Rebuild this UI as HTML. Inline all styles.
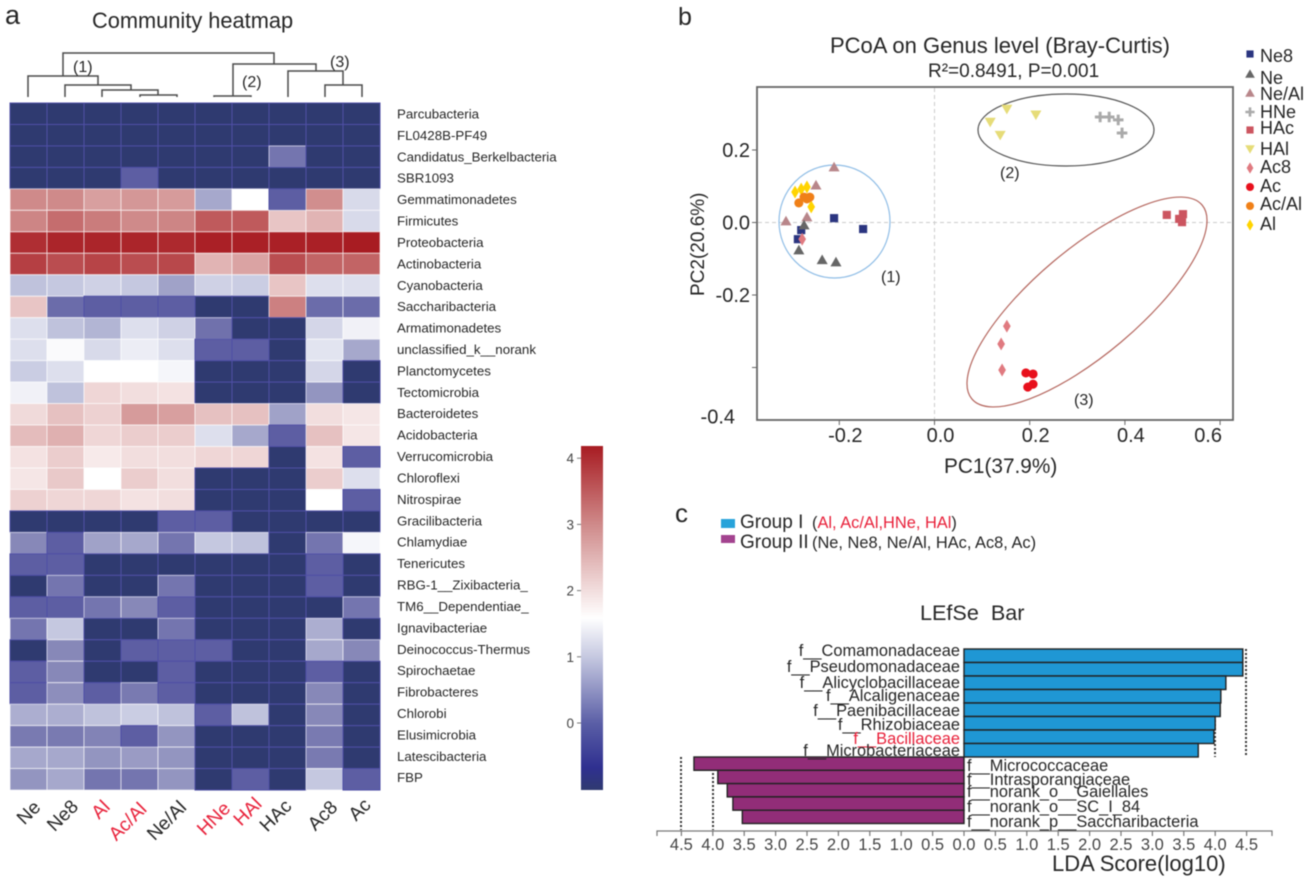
<!DOCTYPE html>
<html lang="en">
<head>
<meta charset="utf-8">
<title>Community heatmap, PCoA and LEfSe figure</title>
<style>
html,body{margin:0;padding:0;background:#fff;}
body{width:1313px;height:882px;overflow:hidden;}
svg{display:block;filter:blur(0.45px);}
text{font-family:"Liberation Sans",Arial,sans-serif;fill:#262626;}
</style>
</head>
<body>
<svg id="fig" xmlns="http://www.w3.org/2000/svg" width="1313" height="882" viewBox="0 0 1313 882">
  <defs>
    <linearGradient id="cbGrad" x1="0" y1="0" x2="0" y2="1">
      <stop offset="0" stop-color="#a81c22"/>
      <stop offset="0.228" stop-color="#cf8a8a"/>
      <stop offset="0.421" stop-color="#f2dede"/>
      <stop offset="0.5" stop-color="#ffffff"/>
      <stop offset="0.614" stop-color="#c5c8e0"/>
      <stop offset="0.807" stop-color="#5a5ea6"/>
      <stop offset="0.935" stop-color="#2f3090"/>
      <stop offset="1" stop-color="#2f3a70"/>
    </linearGradient>
  </defs>

  <!-- panel a -->
  <text x="5" y="24" font-size="27">a</text>
  <text x="92" y="28" font-size="21.8">Community heatmap</text>
  <path fill="none" stroke="#4a4a4a" stroke-width="1.5"
    d="M63 76V53H274V64 M28 97V76H98V85 M65 97V85H131V90 M102 97V90H158V95 M140 97V95H177V97
       M214 97V96H251V97 M233 96V64H316V71 M288 97V71H343V80 M343 85V80 M325 97V85H362V97"/>
  <text x="73" y="72" font-size="16">(1)</text>
  <text x="242" y="87" font-size="16">(2)</text>
  <text x="330" y="67" font-size="16">(3)</text>
  <g id="heatCells"></g>
  <g id="heatRows"></g>

  <g font-size="19" text-anchor="middle">
    <text transform="translate(33 817) rotate(-45)">Ne</text>
    <text transform="translate(67 820) rotate(-45)">Ne8</text>
    <text style="fill:#e8213a" transform="translate(105 814) rotate(-45)">Al</text>
    <text style="fill:#e8213a" transform="translate(132 826) rotate(-45)">Ac/Al</text>
    <text transform="translate(171 825) rotate(-45)">Ne/Al</text>
    <text style="fill:#e8213a" transform="translate(218 823) rotate(-45)">HNe</text>
    <text style="fill:#e8213a" transform="translate(252 816) rotate(-45)">HAl</text>
    <text transform="translate(280 820) rotate(-45)">HAc</text>
    <text transform="translate(327 820) rotate(-45)">Ac8</text>
    <text transform="translate(364 814) rotate(-45)">Ac</text>
  </g>

  <rect x="581" y="446" width="22" height="344" fill="url(#cbGrad)"/>
  <g id="cbTicks"></g>

  <!-- panel b -->
  <text x="678" y="25" font-size="25">b</text>
  <text x="830" y="53" font-size="22">PCoA on Genus level (Bray-Curtis)</text>
  <text x="928" y="77" font-size="19">R²=0.8491, P=0.001</text>
  <rect x="757" y="87" width="476" height="333" fill="#fff" stroke="#666" stroke-width="1.8"/>
  <g id="pcoaAxes"></g>
  <text x="944" y="473" font-size="20.8">PC1(37.9%)</text>
  <text transform="translate(704 296) rotate(-90)" font-size="19">PC2(20.6%)</text>
  <ellipse cx="834.5" cy="221.5" rx="55.5" ry="56.5" fill="none" stroke="#8fbde6" stroke-width="1.2"/>
  <ellipse cx="1066" cy="130" rx="88" ry="36" fill="none" stroke="#555" stroke-width="1.2"/>
  <ellipse cx="1087" cy="302" rx="150.5" ry="52.6" transform="rotate(-40.1 1087 302)" fill="none" stroke="#b5675f" stroke-width="1.2"/>
  <g id="pcoaPoints"></g>
  <text x="881" y="282" font-size="16">(1)</text>
  <text x="1000" y="178" font-size="16">(2)</text>
  <text x="1074" y="405" font-size="16">(3)</text>
  <g id="pcoaLegend"></g>

  <!-- panel c -->
  <text x="675" y="522" font-size="26">c</text>
  <rect x="721" y="519" width="14" height="9" fill="#27a3da"/>
  <rect x="721" y="535" width="14" height="8" fill="#a3438f"/>
  <text x="740" y="528" font-size="19">Group I</text>
  <text x="740" y="548" font-size="19">Group II</text>
  <text x="812" y="528" font-size="16.4">(<tspan style="fill:#e8213a">Al, Ac/Al,HNe, HAl</tspan>)</text>
  <text x="812" y="548" font-size="16.4">(Ne, Ne8, Ne/Al, HAc, Ac8, Ac)</text>
  <text x="920" y="620" font-size="21.6" xml:space="preserve">LEfSe  Bar</text>
  <g id="lefseBars"></g>
  <g font-size="16.4" text-anchor="end">
    <text x="960" y="656">f__Comamonadaceae</text>
    <text x="960" y="672">f__Pseudomonadaceae</text>
    <text x="960" y="688">f__Alicyclobacillaceae</text>
    <text x="960" y="701">f__Alcaligenaceae</text>
    <text x="960" y="716">f__Paenibacillaceae</text>
    <text x="960" y="730">f__Rhizobiaceae</text>
    <text x="960" y="744" style="fill:#e8213a">f__Bacillaceae</text>
    <text x="960" y="756">f__Microbacteriaceae</text>
  </g>
  <g font-size="16.4">
    <text x="967" y="771">f__Micrococcaceae</text>
    <text x="967" y="785">f__Intrasporangiaceae</text>
    <text x="967" y="797">f__norank_o__Gaiellales</text>
    <text x="967" y="812">f__norank_o__SC_I_84</text>
    <text x="967" y="827">f__norank_p__Saccharibacteria</text>
  </g>
  <g id="lefseAxis"></g>
  <text x="1052" y="871" font-size="22">LDA Score(log10)</text>
</svg>

<script>
// ---------- heatmap data ----------
const heatTaxa = ["Parcubacteria","FL0428B-PF49","Candidatus_Berkelbacteria","SBR1093","Gemmatimonadetes","Firmicutes","Proteobacteria","Actinobacteria","Cyanobacteria","Saccharibacteria","Armatimonadetes","unclassified_k__norank","Planctomycetes","Tectomicrobia","Bacteroidetes","Acidobacteria","Verrucomicrobia","Chloroflexi","Nitrospirae","Gracilibacteria","Chlamydiae","Tenericutes","RBG-1__Zixibacteria_","TM6__Dependentiae_","Ignavibacteriae","Deinococcus-Thermus","Spirochaetae","Fibrobacteres","Chlorobi","Elusimicrobia","Latescibacteria","FBP"];
const heatSamples = ["Ne","Ne8","Al","Ac/Al","Ne/Al","HNe","HAl","HAc","Ac8","Ac"];
const heatValues = [
[-.8,-.8,-.8,-.8,-.8,-.8,-.8,-.8,-.8,-.8],
[-.8,-.8,-.8,-.8,-.8,-.8,-.8,-.8,-.8,-.8],
[-.8,-.8,-.8,-.8,-.8,-.8,-.8,.3,-.8,-.8],
[-.8,-.8,-.8,.05,-.8,-.8,-.8,-.8,-.8,-.8],
[3.0,3.0,2.75,2.85,2.8,.75,1.6,.05,2.95,1.2],
[3.05,3.3,3.15,3.0,3.05,3.5,3.5,2.3,2.5,1.2],
[4.0,4.1,4.1,4.1,4.05,4.15,4.15,4.15,4.15,4.2],
[3.8,3.65,3.75,3.65,3.7,2.5,2.7,3.65,3.4,3.4],
[.95,1.0,1.1,1.0,.7,1.1,1.05,2.3,1.25,1.25],
[2.3,.2,.05,.05,.05,-.8,-.8,3.1,.2,.2],
[1.25,.95,.85,1.25,1.1,.25,-.8,-.8,1.15,1.45],
[1.25,1.55,1.2,1.4,1.25,.05,.05,-.8,1.3,.75],
[1.05,1.25,1.6,1.6,1.5,-.8,-.8,-.8,1.15,-.8],
[1.45,.95,2.1,2.0,1.95,-.8,-.8,-.8,.6,-.8],
[2.05,2.35,2.15,2.8,2.75,2.35,2.35,.7,2.0,1.9],
[2.4,2.55,2.1,2.2,2.2,1.25,.75,.05,2.35,1.9],
[1.95,2.2,1.85,2.0,2.0,2.1,2.1,-.8,1.95,.05],
[1.9,2.25,1.6,2.2,2.0,-.8,-.8,-.8,2.2,1.25],
[2.15,2.1,2.1,1.95,2.0,-.8,-.8,-.8,1.6,.05],
[-.8,-.8,-.8,-.8,.05,.05,-.8,-.8,-.8,-.8],
[.5,.05,.7,.75,.3,1.0,.95,-.8,.3,1.5],
[.05,.05,-.8,-.8,-.8,-.8,-.8,-.8,.05,-.8],
[-.8,.3,-.8,-.8,.3,-.8,-.8,-.8,.05,-.8],
[.05,.05,.3,.5,.05,-.8,-.8,-.8,-.8,.3],
[.3,1.0,-.8,-.8,.3,-.8,-.8,-.8,.8,-.8],
[-.8,.5,-.8,.05,.05,.05,-.8,-.8,.75,.5],
[.05,.5,-.8,-.8,.05,-.8,-.8,-.8,.05,-.8],
[.05,.55,.05,.35,.05,-.8,-.8,-.8,.5,-.8],
[.8,.8,.95,1.05,.95,.05,.95,-.8,.5,-.8],
[.35,.35,.45,.05,.6,-.8,-.8,-.8,.35,-.8],
[.75,.75,.6,.65,.6,-.8,-.8,-.8,.35,-.8],
[.6,.75,.3,.3,.6,-.8,.05,-.8,1.0,.05]
];
const colorbarTicks = [0,1,2,3,4];

// ---------- PCoA data: [PC1, PC2] ----------
const seriesNe8 = [[-.211,.012],[-.150,-.018],[-.280,-.021],[-.287,-.046]];
const seriesNe = [[-.274,-.007],[-.285,-.076],[-.236,-.103],[-.207,-.109]];
const seriesNeAl = [[-.211,.153],[-.249,.103],[-.268,.015],[-.312,.004]];
const seriesHNe = [[.348,.291],[.367,.291],[.386,.283],[.394,.247]];
const seriesHAc = [[.488,.021],[.522,.023],[.514,.010],[.520,.001]];
const seriesHAl = [[.117,.277],[.152,.313],[.213,.297],[.138,.241]];
const seriesAc8 = [[.152,-.286],[.140,-.335],[.142,-.407],[-.278,-.046]];
const seriesAc = [[.192,-.415],[.207,-.418],[.207,-.446],[.196,-.454]];
const seriesAcAl = [[-.285,.054],[-.274,.070],[-.268,.065],[-.262,.070]];
const seriesAl = [[-.293,.084],[-.280,.092],[-.268,.098],[-.259,.043]];
const pcoaXTicks = [-0.2,0,0.2,0.4,0.6];
const pcoaYTicks = [0.2,0,-0.2,-0.4];

// ---------- LEfSe data ----------
const groupOneScores = [4.44,4.44,4.17,4.09,4.08,4.0,3.98,3.73];
const groupTwoScores = [4.3,3.92,3.77,3.68,3.53];
const ldaTicks = [0,0.5,1,1.5,2,2.5,3,3.5,4,4.5];

const NS = "http://www.w3.org/2000/svg";
function el(tag, attrs, parent, text) {
  const n = document.createElementNS(NS, tag);
  for (const k in attrs) n.setAttribute(k, attrs[k]);
  if (text !== undefined) n.textContent = text;
  parent.appendChild(n);
  return n;
}

// ---------- heatmap ----------
const heatX = i => 10 + i * 37;
const heatY = i => 103 + i * 21.47;
function mix(a, b, t) {
  const p = s => [1, 3, 5].map(k => parseInt(s.substr(k, 2), 16));
  const A = p(a), B = p(b);
  return "rgb(" + A.map((v, i) => Math.round(v + (B[i] - v) * t)).join(",") + ")";
}
function heatColor(v) {
  const ramp = [[-.8,"#2f3a70"],[-.3,"#38397f"],[.05,"#5d5ea3"],[.5,"#8788b8"],[1,"#c5c8e0"],[1.6,"#ffffff"],[2,"#f2dede"],[3,"#cf8a8a"],[3.5,"#bf5a5c"],[4.2,"#a81c22"]];
  for (let i = 1; i < ramp.length; i++) {
    if (v <= ramp[i][0]) {
      return mix(ramp[i-1][1], ramp[i][1], (v - ramp[i-1][0]) / (ramp[i][0] - ramp[i-1][0]));
    }
  }
  return ramp[ramp.length-1][1];
}
const cellsG = document.getElementById("heatCells");
const rowsG = document.getElementById("heatRows");
heatValues.forEach((row, r) => {
  row.forEach((v, c) => {
    const cell = el("rect", {x: heatX(c), y: heatY(r), width: 37, height: 21.47, fill: heatColor(v), stroke: v < 0.2 ? "#4f4fa6" : "rgba(255,255,255,0.6)", "stroke-width": 1}, cellsG);
    
    
    el("title", {}, cell, heatTaxa[r] + " / " + heatSamples[c]);
  });
  const lab = el("text", {x: 397, y: heatY(r) + 15.5 - r * 0.06, "font-size": 13.3}, rowsG, heatTaxa[r]);
  
  
});

// colorbar ticks
const cbY = v => 723 - v * 66.2;
const cbG = document.getElementById("cbTicks");
colorbarTicks.forEach(v => {
  const t = el("line", {x1: 577, x2: 581, y1: cbY(v), y2: cbY(v), stroke: "#777", "stroke-width": 1}, cbG);
  
  
  const l = el("text", {x: 574, y: cbY(v) + 5, "font-size": 13.5, "text-anchor": "end", style: "fill:#444"}, cbG, String(v));
  
  
});

// ---------- PCoA ----------
const pcX = v => 934.5 + v * 476;
const pcY = v => 222.5 - v * 362.5;
const axesG = document.getElementById("pcoaAxes");
const vz = el("line", {x1: pcX(0), x2: pcX(0), y1: 88, y2: 419, stroke: "#ccc", "stroke-width": 1, "stroke-dasharray": "4 3"}, axesG);


const hz = el("line", {x1: 758, x2: 1232, y1: pcY(0), y2: pcY(0), stroke: "#ccc", "stroke-width": 1, "stroke-dasharray": "4 3"}, axesG);


pcoaXTicks.forEach(v => {
  const t = el("line", {x1: pcX(v), x2: pcX(v), y1: 420, y2: 425, stroke: "#666", "stroke-width": 1}, axesG);
  
  
  const l = el("text", {x: pcX(v) + (v > 0.5 ? -12 : 6), y: 442, "font-size": 20, "text-anchor": "middle"}, axesG, v.toFixed(1));
  
  
});
pcoaYTicks.forEach(v => {
  const t = el("line", {x1: 752, x2: 757, y1: pcY(v), y2: pcY(v), stroke: "#666", "stroke-width": 1}, axesG);
  
  
  // the lowest label sits near the frame corner in the reference, not beside its tick
  const dy = v === -0.4 ? 56 : 7;
  const dx = v === -0.4 ? -15 : 0;
  const l = el("text", {x: 750 + dx, y: pcY(v) + dy, "font-size": 20, "text-anchor": "end"}, axesG, v.toFixed(1));
  
  
});

function marker(shape, x, y, color, parent, s) {
  let n;
  if (shape === "square") n = el("rect", {x: x - s*0.85, y: y - s*0.85, width: s*1.7, height: s*1.7, fill: color}, parent);
  else if (shape === "circle") n = el("circle", {cx: x, cy: y, r: s*0.95, fill: color}, parent);
  else if (shape === "tri") n = el("polygon", {points: [x, y - s*1.1, x + s*1.15, y + s*0.9, x - s*1.15, y + s*0.9].join(" "), fill: color}, parent);
  else if (shape === "down") n = el("polygon", {points: [x, y + s*1.1, x + s*1.15, y - s*0.9, x - s*1.15, y - s*0.9].join(" "), fill: color}, parent);
  else if (shape === "diamond") n = el("polygon", {points: [x, y - s*1.35, x + s*0.8, y, x, y + s*1.35, x - s*0.8, y].join(" "), fill: color}, parent);
  else n = el("path", {d: "M" + (x - s*1.1) + " " + y + "H" + (x + s*1.1) + "M" + x + " " + (y - s*1.1) + "V" + (y + s*1.1), stroke: color, "stroke-width": s*0.62, fill: "none"}, parent);
  return n;
}
const pointsG = document.getElementById("pcoaPoints");
const pcoaSeries = [
  {name:"Ne8", data:seriesNe8, shape:"square", color:"#2b3580"},
  {name:"Ne/Al", data:seriesNeAl, shape:"tri", color:"#b8868a"},
  {name:"Ne", data:seriesNe, shape:"tri", color:"#666666"},
  {name:"HNe", data:seriesHNe, shape:"plus", color:"#aaaaaa"},
  {name:"HAc", data:seriesHAc, shape:"square", color:"#cc5560"},
  {name:"HAl", data:seriesHAl, shape:"down", color:"#e6dc78"},
  {name:"Ac8", data:seriesAc8, shape:"diamond", color:"#e07a80"},
  {name:"Ac", data:seriesAc, shape:"circle", color:"#e8101c"},
  {name:"Al", data:seriesAl, shape:"diamond", color:"#ffd400"},
  {name:"Ac/Al", data:seriesAcAl, shape:"circle", color:"#f08018"}
];
pcoaSeries.forEach(s => {
  s.data.forEach(p => {
    const m = marker(s.shape, pcX(p[0]), pcY(p[1]), s.color, pointsG, 4.8);
    
    
  });
});

// legend
const legendNames = ["Ne8","Ne","Ne/Al","HNe","HAc","HAl","Ac8","Ac","Ac/Al","Al"];
const legG = document.getElementById("pcoaLegend");
const legTextY = {"Ne8":62,"Ne":84,"Ne/Al":100,"HNe":118,"HAc":134,"HAl":155,"Ac8":173,"Ac":192,"Ac/Al":210,"Al":230};
const legMarkY = {"Ne8":54,"Ne":74,"Ne/Al":93,"HNe":112,"HAc":130,"HAl":149,"Ac8":168,"Ac":187,"Ac/Al":206,"Al":225};
legendNames.forEach(name => {
  const s = pcoaSeries.find(q => q.name === name);
  const m = marker(s.shape, 1250, legMarkY[name], s.color, legG, 4.2);
  
  
  const t = el("text", {x: 1260, y: legTextY[name], "font-size": 18}, legG, name);
  
  
});

// ---------- LEfSe ----------
const ldaRight = v => 964 + v * 62.8;
const ldaLeft = v => 964 - v * 62.8;
const barsG = document.getElementById("lefseBars");
[[1246,649,757],[1215,720,757],[681,757,830],[713,773,830]].forEach(d => {
  const g = el("line", {x1: d[0], x2: d[0], y1: d[1], y2: d[2], stroke: "#333", "stroke-width": 2, "stroke-dasharray": "2 2"}, barsG);
  
  
});
groupOneScores.forEach((v, i) => {
  const y = 649 + i * 13.5;
  const b = el("rect", {x: ldaRight(0), y: y, width: ldaRight(v) - ldaRight(0), height: 13.5, fill: "#1f97d4", stroke: "#222", "stroke-width": 1.4}, barsG);
  
  
});
groupTwoScores.forEach((v, i) => {
  const y = 757 + i * 13.3;
  const b = el("rect", {x: ldaLeft(v), y: y, width: ldaLeft(0) - ldaLeft(v), height: 13.3, fill: "#922d78", stroke: "#222", "stroke-width": 1.4}, barsG);
  
  
});
const ldaG = document.getElementById("lefseAxis");
const base = el("path", {d: "M657 836V831H1272V836", fill: "none", stroke: "#777", "stroke-width": 1.2}, ldaG);


ldaTicks.forEach(v => {
  [ldaLeft(v), ldaRight(v)].forEach((x, side) => {
    if (v === 0 && side === 1) return;
    const t = el("line", {x1: x, x2: x, y1: 831, y2: 836, stroke: "#777", "stroke-width": 1.2}, ldaG);
    
    
    const l = el("text", {x: x, y: 850, "font-size": 16.5, "text-anchor": "middle", style: "fill:#444"}, ldaG, v.toFixed(1));
    
    
  });
});
</script>
</body>
</html>
